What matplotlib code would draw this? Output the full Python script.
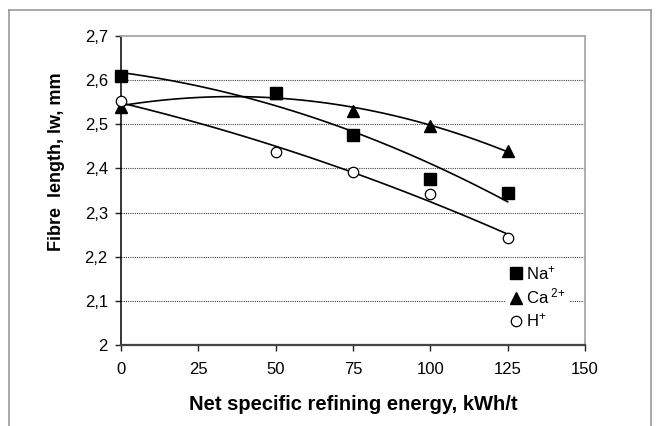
import numpy as np
import matplotlib.pyplot as plt
from matplotlib.lines import Line2D

plt.rcParams['font.family'] = ['Liberation Sans', 'DejaVu Sans']
plt.rcParams['mathtext.fontset'] = 'custom'
plt.rcParams['mathtext.rm'] = 'Liberation Sans'
plt.rcParams['mathtext.it'] = 'Liberation Sans'
plt.rcParams['mathtext.bf'] = 'Liberation Sans:bold'

# data (Ca2+ at 50 sits under the Na+ square)
na_x = [0, 50, 75, 100, 125]
na_y = [2.609, 2.572, 2.476, 2.377, 2.344]
ca_x = [0, 50, 75, 100, 125]
ca_y = [2.540, 2.570, 2.529, 2.497, 2.440]
h_x = [0, 50, 75, 100, 125]
h_y = [2.552, 2.438, 2.392, 2.341, 2.242]

xticks = [0, 25, 50, 75, 100, 125, 150]
yticks = [2.0, 2.1, 2.2, 2.3, 2.4, 2.5, 2.6, 2.7]
ytick_labels = ['2', '2,1', '2,2', '2,3', '2,4', '2,5', '2,6', '2,7']

fig = plt.figure(figsize=(6.59, 4.26), dpi=100)
ax = fig.add_axes([121 / 659, 1 - 345 / 426, 464 / 659, 309 / 426])

# horizontal dotted grid
for y in yticks[1:-1]:
    ax.axhline(y, color='#444444', lw=0.8, ls=(0, (1, 1)), zorder=1)


def trend(x, y):
    # Excel-style 2nd order polynomial trendline
    c = np.polyfit(x, y, 2)
    xs = np.linspace(min(x), max(x), 100)
    ax.plot(xs, np.polyval(c, xs), color='black', lw=1.2, zorder=2)


trend(na_x, na_y)
trend(ca_x, ca_y)
trend(h_x, h_y)

ax.plot(ca_x, ca_y, '^', color='black', ms=8.5, ls='none', zorder=3, clip_on=False)
ax.plot(na_x, na_y, 's', color='black', ms=8.5, ls='none', zorder=3, clip_on=False)
ax.plot(h_x, h_y, 'o', mfc='white', mec='black', mew=0.9, ms=7.5, ls='none',
        zorder=4, clip_on=False)

ax.set_xlim(0, 150)
ax.set_ylim(2.0, 2.7)
ax.set_xticks(xticks)
ax.set_yticks(yticks)
ax.set_xticklabels([str(v) for v in xticks], fontsize=12)
ax.set_yticklabels(ytick_labels, fontsize=12)
ax.tick_params(axis='x', direction='out', length=4.5, width=1, color='#222222', pad=8)
ax.tick_params(axis='y', direction='out', length=4.5, width=1, color='#222222', pad=5)

for s in ['top', 'right']:
    ax.spines[s].set_color('#a8a8a8')
    ax.spines[s].set_linewidth(1.3)
ax.spines['left'].set_color('black')
ax.spines['left'].set_linewidth(1.1)
ax.spines['bottom'].set_color('#444444')
ax.spines['bottom'].set_linewidth(1.6)

ax.set_xlabel('Net specific refining energy, kWh/t', fontsize=14.5,
              fontweight='bold', va='top')
ax.xaxis.set_label_coords(0.501, -0.162)
ax.set_ylabel('Fibre  length, lw, mm', fontsize=13, fontweight='bold',
              va='center')
ax.yaxis.set_label_coords(-0.138, 0.592)

handles = [
    Line2D([], [], marker='s', color='black', ls='none', ms=8.5),
    Line2D([], [], marker='^', color='black', ls='none', ms=8.5),
    Line2D([], [], marker='o', mfc='white', mec='black', mew=0.9, ls='none', ms=7.5),
]
labels = [r'Na$^{+}$', r'Ca$^{\ 2{+}}$', r'H$^{+}$']
leg = ax.legend(handles, labels, loc='center left', bbox_to_anchor=(0.829, 0.156),
                frameon=True, fontsize=12, handlelength=0.8, handletextpad=0.25,
                labelspacing=0.3, borderpad=0.2, borderaxespad=0)
leg.get_frame().set_edgecolor('none')
leg.get_frame().set_facecolor('white')
leg.get_frame().set_alpha(1)

# outer chart border
for xs, ys in [([9, 9], [426, 10]), ([9, 651], [10, 10]), ([651, 651], [10, 426])]:
    fig.add_artist(Line2D([x / 659 for x in xs], [1 - y / 426 for y in ys],
                          color='#999999', lw=1.2))

fig.savefig('out.png', dpi=100)
